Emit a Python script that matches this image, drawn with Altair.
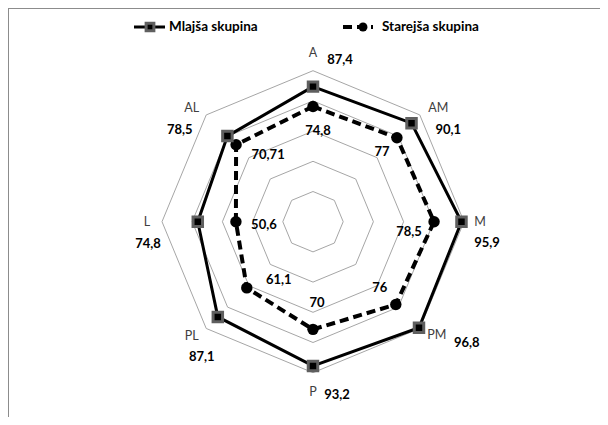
import math
import altair as alt
import pandas as pd

# ---------------- data ----------------
categories = ["A", "AM", "M", "PM", "P", "PL", "L", "AL"]
mlajsa = [87.4, 90.1, 95.9, 96.8, 93.2, 87.1, 74.8, 78.5]
starejsa = [74.8, 77.0, 78.5, 76.0, 70.0, 61.1, 50.6, 70.71]
series_names = ["Mlajša skupina", "Starejša skupina"]
n_rings = 5

# ---------------- styling / geometry ----------------
W, H = 592, 409
CX, CY = 305, 213.7          # centre of the radar in chart pixels
R_MIN, R_MAX = 1.7, 97.5     # radial value at centre and at outer ring
R_PX = 151                   # outer ring radius in px
FONT = "Lato"

# pixel offsets of category labels from the outer-ring vertex (dx, dy screen)
cat_off = [(0, -18), (18.5, -6.6), (16, 0), (17, 6.5), (0, 19.5), (-14.5, 8), (-15, 0), (-14.5, -6.6)]
# pixel offsets of younger-group value labels from the category label
young_off = [(27, 7), (10, 22), (7, 21), (30, 8), (24, 3), (10, 21), (1, 22), (-12, 22)]
# pixel offsets of older-group value labels from their point
old_off = [(5, 25), (-15, 14), (-25, 10), (-16, -17), (4, -26), (32, -8), (28, 3), (32, 10)]


def radius(v):
    return (v - R_MIN) / (R_MAX - R_MIN) * R_PX


def xy(r, k):
    t = k * math.pi / 4
    return r * math.sin(t), r * math.cos(t)


def fmt(v):
    return f"{v:g}".replace(".", ",")


n = len(categories)

# grid rings
ring_rows = []
for ring in range(1, n_rings + 1):
    r = R_PX * ring / n_rings
    for i in range(n + 1):
        x, y = xy(r, i % n)
        ring_rows.append({"ring": ring, "o": i, "x": x, "y": y})
rings = pd.DataFrame(ring_rows)

# series polygons
series_rows = []
for name, vals in zip(series_names, [mlajsa, starejsa]):
    for i in range(n + 1):
        k = i % n
        x, y = xy(radius(vals[k]), k)
        series_rows.append({"series": name, "o": i, "x": x, "y": y, "cat": categories[k], "v": vals[k]})
series = pd.DataFrame(series_rows)
young_pts = series[(series.series == series_names[0]) & (series.o < n)]
old_pts = series[(series.series == series_names[1]) & (series.o < n)]

# labels
cat_rows, yl_rows, ol_rows = [], [], []
for k, c in enumerate(categories):
    ox, oy = xy(R_PX, k)
    cx, cy = ox + cat_off[k][0], oy - cat_off[k][1]
    cat_rows.append({"x": cx, "y": cy, "t": c})
    yl_rows.append({"x": cx + young_off[k][0], "y": cy - young_off[k][1], "t": fmt(mlajsa[k])})
    px, py = xy(radius(starejsa[k]), k)
    ol_rows.append({"x": px + old_off[k][0], "y": py - old_off[k][1], "t": fmt(starejsa[k])})
cat_lbl = pd.DataFrame(cat_rows)
young_lbl = pd.DataFrame(yl_rows)
old_lbl = pd.DataFrame(ol_rows)

xs = alt.Scale(domain=[-CX, W - CX], nice=False, zero=False)
ys = alt.Scale(domain=[-(H - CY), CY], nice=False, zero=False)
X = alt.X("x:Q", scale=xs, axis=None)
Y = alt.Y("y:Q", scale=ys, axis=None)

grid = alt.Chart(rings).mark_line(color="#a6a6a6", strokeWidth=1).encode(
    x=X, y=Y, detail="ring:N", order="o:Q")

young_line = alt.Chart(series[series.series == series_names[0]]).mark_line(
    color="black", strokeWidth=3, strokeJoin="miter").encode(x=X, y=Y, order="o:Q")
old_line = alt.Chart(series[series.series == series_names[1]]).mark_line(
    color="black", strokeWidth=4, strokeDash=[9, 5]).encode(x=X, y=Y, order="o:Q")

old_marks = alt.Chart(old_pts).mark_circle(color="black", size=130, opacity=1).encode(x=X, y=Y)
young_marks = alt.Chart(young_pts).mark_point(
    shape="square", filled=True, fill="black", stroke="#5f5f5f", strokeWidth=3, size=90, opacity=1
).encode(x=X, y=Y)

cat_text = alt.Chart(cat_lbl).mark_text(
    font=FONT, fontSize=12.5, color="#404040", align="center", baseline="middle").encode(x=X, y=Y, text="t:N")
young_text = alt.Chart(young_lbl).mark_text(
    font=FONT, fontSize=13, fontWeight="bold", color="black", align="center", baseline="middle").encode(x=X, y=Y, text="t:N")
old_text = alt.Chart(old_lbl).mark_text(
    font=FONT, fontSize=13, fontWeight="bold", color="black", align="center", baseline="middle").encode(x=X, y=Y, text="t:N")

# legend (drawn by hand, pixel positions)
one = pd.DataFrame({"a": [0]})
leg_y = 19
leg1_line = alt.Chart(one).mark_rule(color="black", strokeWidth=3).encode(
    x=alt.value(126), x2=alt.value(157), y=alt.value(leg_y))
leg1_mark = alt.Chart(one).mark_point(
    shape="square", filled=True, fill="black", stroke="#5f5f5f", strokeWidth=3, size=60, opacity=1
).encode(x=alt.value(142), y=alt.value(leg_y))
leg1_text = alt.Chart(pd.DataFrame({"t": [series_names[0]]})).mark_text(
    font=FONT, fontSize=13.5, fontWeight="bold", align="left", baseline="middle", color="black"
).encode(x=alt.value(161), y=alt.value(leg_y), text="t:N")
leg2_line = alt.Chart(one).mark_rule(color="black", strokeWidth=4, strokeDash=[9, 5]).encode(
    x=alt.value(335), x2=alt.value(365), y=alt.value(leg_y))
leg2_mark = alt.Chart(one).mark_circle(color="black", size=80, opacity=1).encode(
    x=alt.value(355), y=alt.value(leg_y))
leg2_text = alt.Chart(pd.DataFrame({"t": [series_names[1]]})).mark_text(
    font=FONT, fontSize=13.5, fontWeight="bold", align="left", baseline="middle", color="black"
).encode(x=alt.value(374), y=alt.value(leg_y), text="t:N")

# frame (top and left edges visible in the reference)
frame_top = alt.Chart(one).mark_rule(color="#8c8c8c", strokeWidth=1).encode(
    x=alt.value(0), x2=alt.value(W), y=alt.value(0.5))
frame_left = alt.Chart(one).mark_rule(color="#8c8c8c", strokeWidth=1).encode(
    x=alt.value(0.5), y=alt.value(0), y2=alt.value(H))

chart = alt.layer(
    frame_top, frame_left, grid, young_line, old_line, old_marks, young_marks,
    cat_text, young_text, old_text,
    leg1_line, leg1_mark, leg1_text, leg2_line, leg2_mark, leg2_text,
).properties(width=W, height=H, padding=0, autosize=alt.AutoSizeParams(type="none"),
             background="white").configure_view(stroke=None)

chart.save("out.html", embed_options={"renderer": "svg", "actions": False})
